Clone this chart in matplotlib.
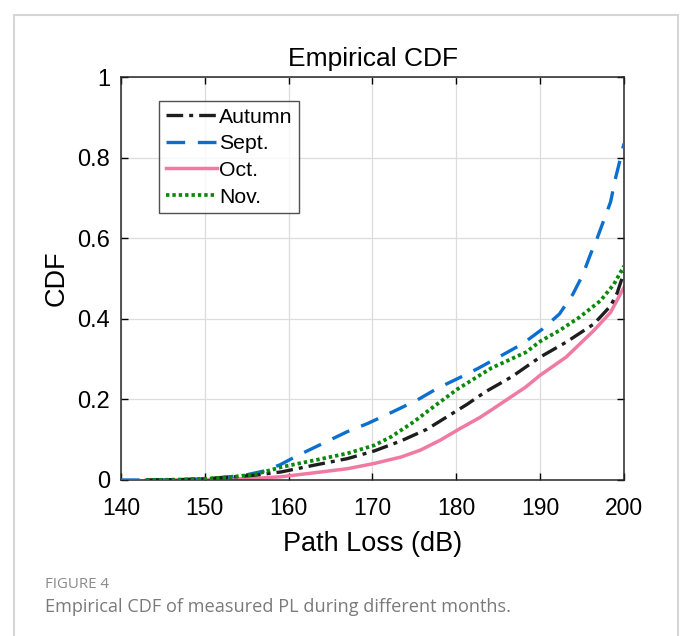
import matplotlib
matplotlib.use("Agg")
import matplotlib.pyplot as plt
from matplotlib.patches import Rectangle

plt.rcParams['font.family'] = ['Liberation Sans', 'DejaVu Sans']

# path loss (dB) and CDF values
pl_sept = [140, 147, 150, 153, 155, 157, 159, 161, 163, 165, 167, 169.4, 172.4, 175.3, 177.7,
           180.2, 182.6, 185.4, 187.9, 190.3, 192.3, 193.9, 195.1, 196, 196.8, 197.6, 198.4,
           199, 199.6, 200]
cdf_sept = [0, 0, 0.003, 0.008, 0.013, 0.022, 0.038, 0.06, 0.08, 0.10, 0.12, 0.14, 0.169, 0.198,
            0.227, 0.252, 0.277, 0.309, 0.338, 0.375, 0.412, 0.461, 0.51, 0.56, 0.60, 0.645,
            0.69, 0.75, 0.80, 0.835]

pl_autumn = [143, 147, 150, 153, 156, 159.1, 163.1, 167, 170.2, 173.4, 176.5, 178.9, 181.3,
             183.4, 186.6, 190, 193.1, 196.4, 198.4, 199.2, 200]
cdf_autumn = [0, 0.001, 0.003, 0.007, 0.012, 0.02, 0.037, 0.053, 0.072, 0.097, 0.126, 0.157,
              0.188, 0.218, 0.256, 0.305, 0.342, 0.387, 0.432, 0.465, 0.515]

pl_oct = [143, 150, 153, 156, 159.1, 163.1, 167, 170.2, 173.4, 175.7, 178.1, 180.3, 182.8,
          184.2, 188.3, 190, 193.1, 196.4, 198.4, 200]
cdf_oct = [0, 0.001, 0.002, 0.004, 0.008, 0.018, 0.028, 0.041, 0.057, 0.074, 0.099, 0.126,
           0.155, 0.174, 0.231, 0.26, 0.305, 0.371, 0.416, 0.478]

pl_nov = [143, 147, 150, 153, 156, 159.1, 163.1, 167, 170.2, 172.2, 174.9, 177.3, 180.1,
          182.8, 184.2, 188.3, 190, 192.3, 194.7, 197.2, 198.8, 200]
cdf_nov = [0, 0.001, 0.003, 0.007, 0.014, 0.032, 0.049, 0.066, 0.086, 0.107, 0.144, 0.182,
           0.225, 0.26, 0.278, 0.317, 0.344, 0.371, 0.404, 0.445, 0.486, 0.531]

xticks = [140, 150, 160, 170, 180, 190, 200]
yticks = [0, 0.2, 0.4, 0.6, 0.8, 1]
yticklabels = ['0', '0.2', '0.4', '0.6', '0.8', '1']

fig = plt.figure(figsize=(6.81, 6.36), dpi=100)
fig.patches.append(Rectangle((14 / 681, -0.05), 664 / 681, 1 - 15 / 636 + 0.05,
                             transform=fig.transFigure, fill=False,
                             edgecolor='#d6d6d6', linewidth=1.5))

ax = fig.add_axes([121 / 681, 1 - 480 / 636, 503 / 681, 403 / 636])

ax.plot(pl_autumn, cdf_autumn, color='#1e1e1e', lw=2.4, dashes=(5, 1.8, 1.2, 1.8), label='Autumn', zorder=4)
ax.plot(pl_sept, cdf_sept, color='#0b6fd0', lw=2.4, dashes=(5.6, 3.8), label='Sept.', zorder=3)
ax.plot(pl_oct, cdf_oct, color='#f07aa2', lw=2.5, label='Oct.', zorder=2)
ax.plot(pl_nov, cdf_nov, color='#0a8a0a', lw=2.7, dashes=(0.9, 0.8), label='Nov.', zorder=5)

ax.set_xlim(140, 200)
ax.set_ylim(0, 1)
ax.set_xticks(xticks)
ax.set_yticks(yticks)
ax.set_yticklabels(yticklabels)
ax.tick_params(direction='in', top=True, right=True, length=5, width=1)
ax.tick_params(axis='x', labelsize=16.5, pad=12)
ax.tick_params(axis='y', labelsize=17, pad=8)
ax.grid(True, color='#dcdcdc', linewidth=0.9)
ax.set_axisbelow(True)
for s in ax.spines.values():
    s.set_linewidth(1.1)
    s.set_color('#262626')

ax.set_title('Empirical CDF', fontsize=19, pad=8)
ax.set_xlabel('Path Loss (dB)', fontsize=19.5, labelpad=8)
ax.set_ylabel('CDF', fontsize=19.5, labelpad=5)

leg = ax.legend(loc='upper left', bbox_to_anchor=(0.076, 0.94), fontsize=15.3,
                frameon=True, fancybox=False, borderaxespad=0, handlelength=2.4,
                handletextpad=0.12, labelspacing=0.36, borderpad=0.3)
leg.get_frame().set_edgecolor('#262626')
leg.get_frame().set_linewidth(1.0)

fig.text(45 / 681, 1 - 584 / 636, 'FIGURE 4', fontsize=10.8, color='#8a8a8a',
         family=['Open Sans', 'DejaVu Sans'], va='center')
fig.text(45 / 681, 1 - 607 / 636, 'Empirical CDF of measured PL during different months.',
         fontsize=13.1, color='#7a7a7a', family=['Open Sans', 'DejaVu Sans'], va='center')

fig.savefig('out.png', dpi=100)
